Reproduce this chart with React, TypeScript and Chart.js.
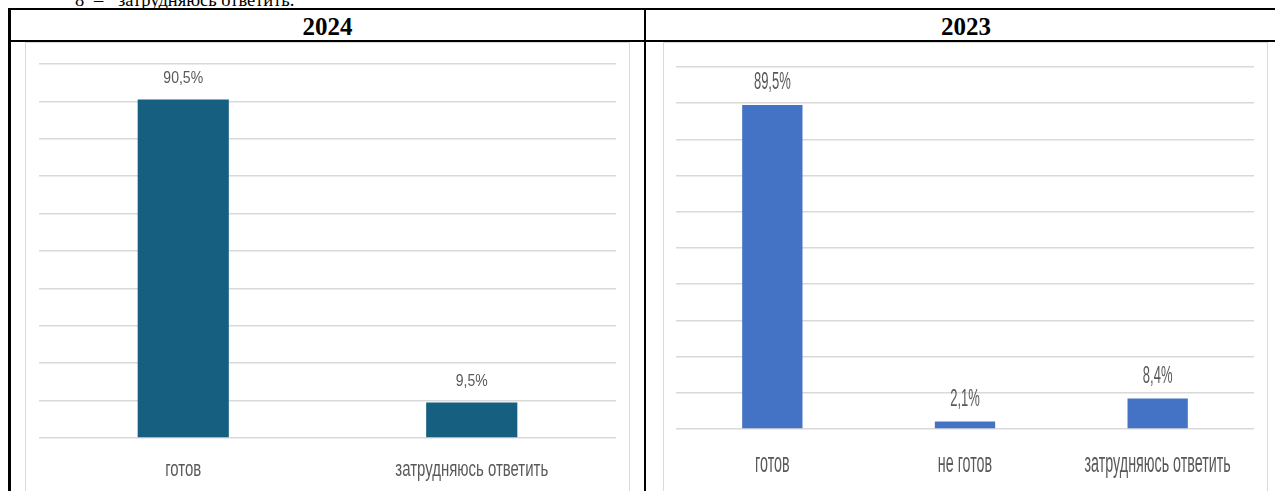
import React, { useEffect, useRef } from "react";
import { Chart, registerables } from "chart.js";

Chart.register(...registerables);

// ---- Data ----
const categories2024 = ["готов", "затрудняюсь ответить"];
const values2024 = [90.5, 9.5];

const categories2023 = ["готов", "не готов", "затрудняюсь ответить"];
const values2023 = [89.5, 2.1, 8.4];

const yTickMax = 100;
const yTickStep = 10;

const headers = ["2024", "2023"];

const SANS = "'Liberation Sans', Arial, sans-serif";
const SERIF = "'Liberation Serif', 'Times New Roman', serif";
const TEXT_GREY = "#595959";

const fmt = (v: number) => v.toFixed(1).replace(".", ",") + "%";

// Draws condensed (narrow) text: value labels above bars and category labels under the axis
const narrowLabelsPlugin = {
  id: "narrowLabels",
  afterDraw(chart: any) {
    const o = chart.options.plugins.narrowLabels;
    const ctx = chart.ctx;
    const xs = chart.scales.x;
    const meta = chart.getDatasetMeta(0);
    const data = chart.data.datasets[0].data as number[];
    ctx.save();
    ctx.fillStyle = TEXT_GREY;
    ctx.textAlign = "center";
    ctx.textBaseline = "alphabetic";

    // value labels
    ctx.font = `${o.valSize}px ${SANS}`;
    meta.data.forEach((el: any, i: number) => {
      const yc = el.y - o.valGap;
      ctx.save();
      ctx.translate(el.x, yc + 0.358 * o.valSize);
      ctx.scale(o.valSx, 1);
      ctx.fillText(fmt(data[i]), 0, 0);
      ctx.restore();
    });

    // category labels
    ctx.font = `${o.catSize}px ${SANS}`;
    (chart.data.labels as string[]).forEach((lab, i) => {
      const x = xs.getPixelForTick(i);
      const yc = chart.chartArea.bottom + o.catOffset;
      ctx.save();
      ctx.translate(x, yc + 0.26 * o.catSize);
      ctx.scale(o.catSx, 1);
      ctx.fillText(lab, 0, 0);
      ctx.restore();
    });
    ctx.restore();
  },
};

type BarProps = {
  categories: string[];
  values: number[];
  color: string;
  barPct: number;
  pad: { left: number; right: number; top: number; bottom: number };
  labels: {
    valSize: number;
    valSx: number;
    valGap: number;
    catSize: number;
    catSx: number;
    catOffset: number;
  };
  width: number;
  height: number;
};

function BarChart(props: BarProps) {
  const ref = useRef<HTMLCanvasElement | null>(null);
  useEffect(() => {
    if (!ref.current) return;
    const chart = new Chart(ref.current, {
      type: "bar",
      data: {
        labels: props.categories,
        datasets: [
          {
            data: props.values,
            backgroundColor: props.color,
            borderWidth: 0,
            barPercentage: props.barPct,
            categoryPercentage: 1,
          },
        ],
      },
      options: {
        responsive: false,
        animation: false,
        devicePixelRatio: 1,
        layout: { padding: props.pad },
        plugins: {
          legend: { display: false },
          tooltip: { enabled: false },
          title: { display: false },
          narrowLabels: props.labels,
        } as any,
        scales: {
          x: {
            grid: { display: false, drawTicks: false },
            border: { display: false },
            ticks: { display: false },
          },
          y: {
            min: 0,
            max: yTickMax,
            ticks: { display: false, stepSize: yTickStep },
            grid: { color: "#d9d9d9", lineWidth: 1.5, drawTicks: false },
            border: { display: false },
          },
        },
      },
      plugins: [narrowLabelsPlugin],
    });
    return () => chart.destroy();
  }, []);
  return (
    <canvas
      ref={ref}
      width={props.width}
      height={props.height}
      style={{ display: "block", width: props.width, height: props.height }}
    />
  );
}

export default function App() {
  const line = "#000";
  const headerStyle: React.CSSProperties = {
    position: "absolute",
    top: 14,
    height: 25,
    lineHeight: "25px",
    textAlign: "center",
    fontFamily: SERIF,
    fontWeight: "bold",
    fontSize: 25,
    color: "#000",
  };
  return (
    <div
      style={{
        position: "fixed",
        left: 0,
        top: 0,
        width: 1275,
        height: 491,
        overflow: "hidden",
        background: "#fff",
      }}
    >
      {/* cut-off paragraph text above the table */}
      <div
        style={{
          position: "absolute",
          top: -10,
          left: 0,
          width: 1275,
          height: 20,
          fontFamily: SERIF,
          fontSize: 18.5,
          lineHeight: "20px",
          whiteSpace: "nowrap",
          color: "#000",
        }}
      >
        <span style={{ position: "absolute", left: 75 }}>8</span>
        <span style={{ position: "absolute", left: 94 }}>–</span>
        <span style={{ position: "absolute", left: 118 }}>затрудняюсь ответить.</span>
      </div>

      {/* table borders */}
      <div style={{ position: "absolute", left: 8, top: 8, width: 1267, height: 2, background: line }} />
      <div style={{ position: "absolute", left: 8, top: 40, width: 1267, height: 2, background: line }} />
      <div style={{ position: "absolute", left: 8, top: 8, width: 3, height: 483, background: line }} />
      <div style={{ position: "absolute", left: 644, top: 8, width: 2, height: 483, background: line }} />

      {/* headers */}
      <div style={{ ...headerStyle, left: 11, width: 633 }}>{headers[0]}</div>
      <div style={{ ...headerStyle, left: 646, width: 640 }}>{headers[1]}</div>

      {/* chart 2024 */}
      <div style={{ position: "absolute", left: 25, top: 42, width: 605, height: 449 }}>
        <BarChart
          categories={categories2024}
          values={values2024}
          color="#175f80"
          barPct={0.316}
          pad={{ left: 14, right: 14, top: 22, bottom: 53 }}
          labels={{ valSize: 16.5, valSx: 0.85, valGap: 22, catSize: 22, catSx: 0.68, catOffset: 32 }}
          width={605}
          height={449}
        />
      </div>
      <div
        style={{
          position: "absolute",
          left: 25,
          top: 42,
          width: 603,
          height: 500,
          border: "1px solid #d9d9d9",
          pointerEvents: "none",
        }}
      />

      {/* chart 2023 */}
      <div style={{ position: "absolute", left: 663, top: 42, width: 605, height: 449 }}>
        <BarChart
          categories={categories2023}
          values={values2023}
          color="#4472c4"
          barPct={0.313}
          pad={{ left: 13, right: 14, top: 25, bottom: 62 }}
          labels={{ valSize: 23, valSx: 0.565, valGap: 24, catSize: 27, catSx: 0.53, catOffset: 36 }}
          width={605}
          height={449}
        />
      </div>
      <div
        style={{
          position: "absolute",
          left: 663,
          top: 42,
          width: 603,
          height: 500,
          border: "1px solid #d9d9d9",
          pointerEvents: "none",
        }}
      />
    </div>
  );
}
